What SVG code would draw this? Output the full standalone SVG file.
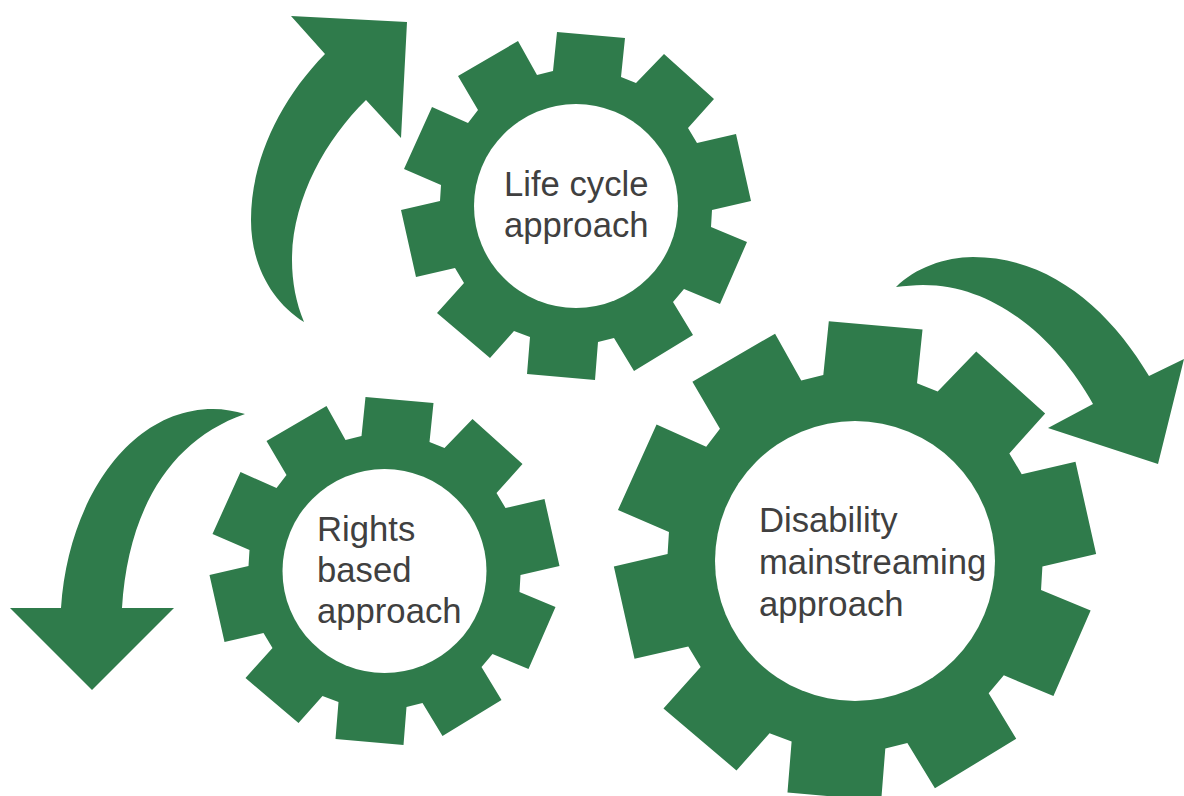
<svg xmlns="http://www.w3.org/2000/svg" width="1184" height="796" viewBox="0 0 1184 796">
<style>
.g{fill:#2f7b4b}
.h{fill:#fff}
text{font-family:"Liberation Sans",Arial,sans-serif;font-size:34.67px;fill:#404040}
</style>
<defs>
<polygon id="gear" points="-19,-174 49,-168 45,-129 60,-123 88,-152 138,-107 112,-78 121,-63 160,-72 175,-5 136,4 135,21 171,36 144,98 108,83 97,96 117,129 58,165 38,132 22,136 19,174 -49,168 -46,131 -62,125 -86,152 -139,107 -112,77 -121,62 -160,71 -175,4 -136,-5 -135,-21 -172,-37 -144,-99 -108,-83 -98,-96 -118,-130 -58,-165 -39,-131 -23,-135"/>
</defs>
<rect width="1184" height="796" fill="#fff"/>
<g id="connectors">
<path class="g" d="M291,16 L407,22 L401,138 L366,100 C325,140 292,200 292,260 C292,282 296,303 304,322 C272,302 251,265 251,220 C251,160 280,100 325,54 Z"/>
<path class="g" d="M896,287 C915,268 945,257 973,257 C1050,257 1110,310 1149,376 L1184,359 L1158,464 L1048,428 L1093,404 C1060,345 1000,285 923,285 C914,285 905,286 896,287 Z"/>
<path class="g" d="M245,414 C235,411 224,409 213,409 C130,409 68,500 61,608 L10,608 L92,690 L174,608 L122,608 C128,510 170,440 245,414 Z"/>
</g>
<g id="life-cycle">
<use href="#gear" class="g" x="576" y="206"/>
<circle class="h" cx="576" cy="206" r="102"/>
<text x="504" y="196">Life cycle</text>
<text x="504" y="237">approach</text>
</g>
<g id="rights-based">
<use href="#gear" class="g" x="384.5" y="571"/>
<circle class="h" cx="384.5" cy="571" r="102"/>
<text x="317" y="541">Rights</text>
<text x="317" y="582">based</text>
<text x="317" y="623">approach</text>
</g>
<g id="disability-mainstreaming">
<use href="#gear" class="g" transform="translate(855 561) scale(1.378)"/>
<circle class="h" cx="855" cy="561" r="140"/>
<text x="759" y="532">Disability</text>
<text x="759" y="574">mainstreaming</text>
<text x="759" y="616">approach</text>
</g>
</svg>
